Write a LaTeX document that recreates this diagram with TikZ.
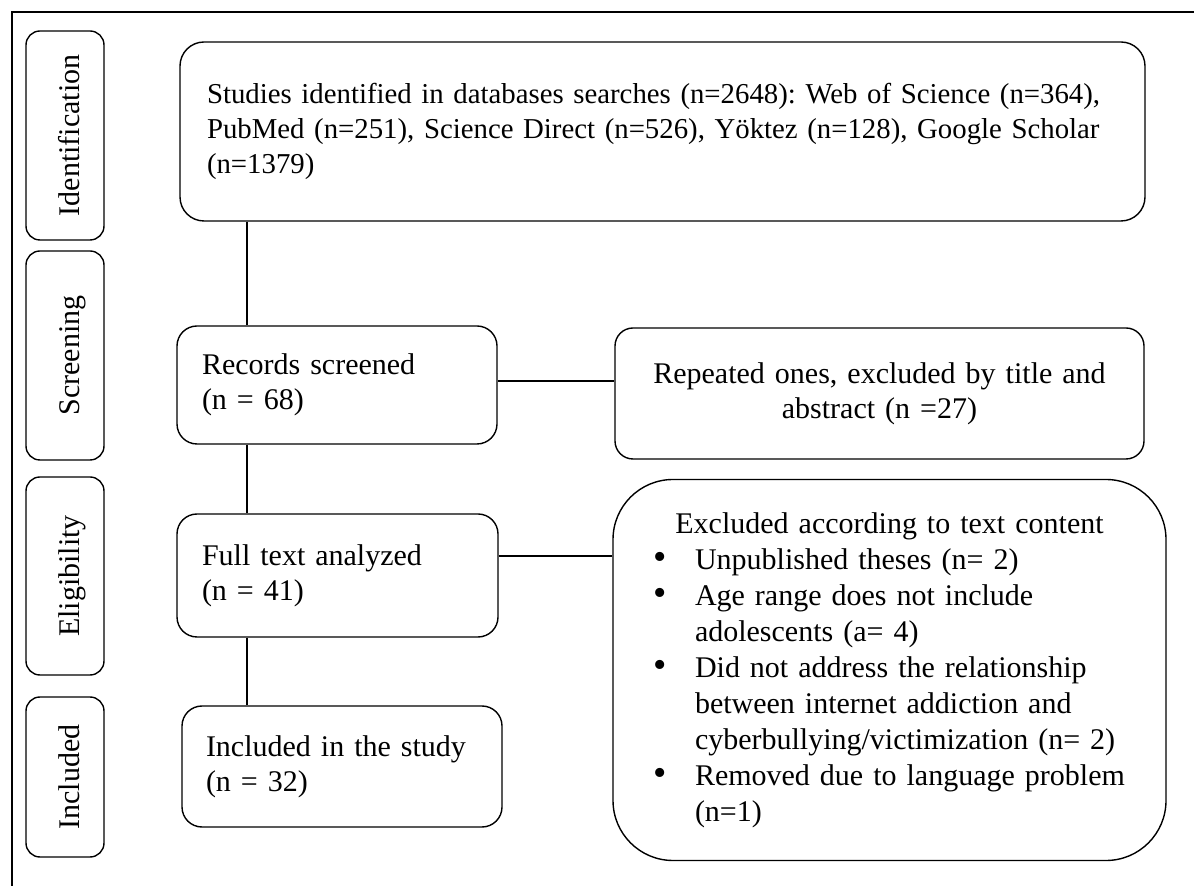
\documentclass[tikz,border=0pt]{standalone}
\usepackage{fontspec}
\setmainfont{Liberation Serif}

\newcommand{\bulletitem}{\makebox[21pt][l]{\fontsize{19}{18}\selectfont\textbullet}}

\begin{document}
\frenchspacing
\begin{tikzpicture}[x=0.5pt, y=-0.5pt, line width=0.7pt,
	font=\fontsize{15}{17.5}\selectfont,
	phase/.style={draw, rounded corners=7pt, rotate=90, minimum height=39pt, inner sep=0pt, text height=14pt, text depth=0pt},
	box/.style={draw, align=left, inner ysep=0pt}]

	\useasboundingbox (0,0) rectangle (1194,886);
	\draw (1194,12) -- (12,12) -- (12,886);

	\node[phase, minimum width=104.5pt] (identification) at (65,135.5) {Identification};
	\node[phase, minimum width=104.5pt] (screening) at (65,355.5) {Screening};
	\node[phase, minimum width=99pt] (eligibility) at (65,576) {Eligibility};
	\node[phase, minimum width=80pt] (inclusion) at (65,777) {Included};

	\node[box, rounded corners=12pt, minimum width=482.5pt, minimum height=89.5pt, inner xsep=13.5pt, text width=455.5pt,
		font=\fontsize{14.4}{17.5}\selectfont] (search) at (662.5,131.5)
		{Studies identified in databases searches (n=2648): Web of Science (n=364),\\
		PubMed (n=251), Science Direct (n=526), Yöktez (n=128), Google Scholar\\
		(n=1379)};
	\node[box, rounded corners=10pt, minimum width=160pt, minimum height=59pt, inner xsep=12.5pt, text width=135pt] (screened) at (337,385)
		{Records screened\\ (n = 68)};
	\node[box, rounded corners=10pt, minimum width=160.5pt, minimum height=61.5pt, inner xsep=12.5pt, text width=135.5pt] (fulltext) at (337.5,575.5)
		{Full text analyzed\\ (n = 41)};
	\node[box, rounded corners=10pt, minimum width=160pt, minimum height=60.5pt, inner xsep=12pt, text width=136pt] (included) at (342,766.5)
		{Included in the study\\ (n = 32)};

	\node[box, align=center, rounded corners=9pt, minimum width=264.5pt, minimum height=65.5pt, inner xsep=10pt, text width=244.5pt] (repeated) at (879.5,393.5)
		{Repeated ones, excluded by title and\\ abstract (n =27)};
	\node[box, rounded corners=30pt, minimum width=276.5pt, minimum height=190.5pt, inner xsep=20pt, text width=236.5pt,
		font=\fontsize{15}{18}\selectfont] (excluded) at (889.5,670)
		{\makebox[\linewidth]{Excluded according to text content}\\
		\bulletitem Unpublished theses (n= 2)\\
		\bulletitem Age range does not include\\
		\hspace*{21pt}adolescents (a= 4)\\
		\bulletitem Did not address the relationship\\
		\hspace*{21pt}between internet addiction and\\
		\hspace*{21pt}cyberbullying/victimization (n= 2)\\
		\bulletitem Removed due to language problem\\
		\hspace*{21pt}(n=1)};

	\coordinate (spine) at (247,0);
	\coordinate (rowa) at (0,381);
	\coordinate (rowb) at (0,556);

	\draw (search.south -| spine) -- (screened.north -| spine);
	\draw (screened.south -| spine) -- (fulltext.north -| spine);
	\draw (fulltext.south -| spine) -- (included.north -| spine);
	\draw (screened.east |- rowa) -- (repeated.west |- rowa);
	\draw (fulltext.east |- rowb) -- (excluded.west |- rowb);

\end{tikzpicture}
\end{document}
